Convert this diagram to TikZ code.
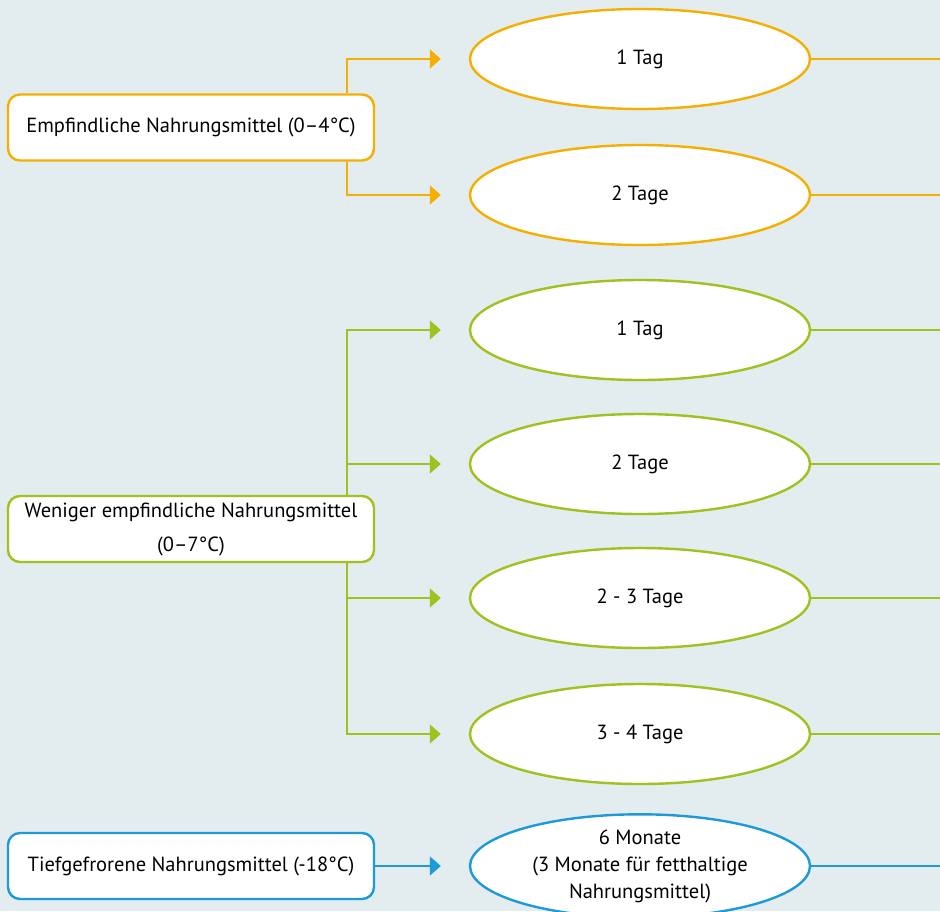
\documentclass[tikz,border=0pt]{standalone}
\usepackage{fontspec}
\setmainfont{PT Sans}
\usetikzlibrary{shapes.geometric,arrows.meta}
\definecolor{bg}{HTML}{E3ECEF}
\definecolor{cor}{HTML}{F5AF00}
\definecolor{cgr}{HTML}{A0C11E}
\definecolor{cbl}{HTML}{1E9AD8}
\tikzset{
  box/.style={draw=#1, fill=white, line width=2.4pt, rounded corners=12pt,
    minimum width=366pt, minimum height=66pt, align=center, inner sep=2pt,
    font=\fontsize{20.5}{34}\selectfont},
  oval/.style={draw=#1, fill=white, line width=2.4pt, ellipse,
    minimum width=340pt, minimum height=100pt, inner sep=0pt, align=center,
    font=\fontsize{20.5}{27}\selectfont},
  link/.style={draw=#1, line width=2pt, -{Triangle[length=11pt,width=19pt]}, shorten >=28pt},
  tail/.style={draw=#1, line width=2pt}
}
\begin{document}
\begin{tikzpicture}[x=1pt,y=-1pt]
\fill[bg] (0,0) rectangle (940,911);
\useasboundingbox (0,0) rectangle (940,911);
\coordinate (jx) at (347,0);
\coordinate (rx) at (940,0);
% orange
\node[box=cor] (b1) at (191,127.5) {Empfindliche Nahrungsmittel (0–4°C)};
\node[oval=cor] (e1) at (640,59) {1 Tag};
\node[oval=cor] (e2) at (640,195) {2 Tage};
\draw[link=cor] (b1.north -| jx) |- (e1.west);
\draw[link=cor] (b1.south -| jx) |- (e2.west);
\draw[tail=cor] (e1.east) -- (e1.east -| rx);
\draw[tail=cor] (e2.east) -- (e2.east -| rx);
% green
\node[box=cgr] (b2) at (191,529) {Weniger empfindliche Nahrungsmittel\\(0–7°C)};
\node[oval=cgr] (e3) at (640,330) {1 Tag};
\node[oval=cgr] (e4) at (640,464) {2 Tage};
\node[oval=cgr] (e5) at (640,598) {2 - 3 Tage};
\node[oval=cgr] (e6) at (640,734) {3 - 4 Tage};
\draw[link=cgr] (b2.north -| jx) |- (e3.west);
\draw[link=cgr] (b2.north -| jx) |- (e4.west);
\draw[link=cgr] (b2.south -| jx) |- (e5.west);
\draw[link=cgr] (b2.south -| jx) |- (e6.west);
\draw[tail=cgr] (e3.east) -- (e3.east -| rx);
\draw[tail=cgr] (e4.east) -- (e4.east -| rx);
\draw[tail=cgr] (e5.east) -- (e5.east -| rx);
\draw[tail=cgr] (e6.east) -- (e6.east -| rx);
% blue
\node[box=cbl] (b3) at (191,866) {Tiefgefrorene Nahrungsmittel (-18°C)};
\node[oval=cbl] (e7) at (640,866) {6 Monate\\(3 Monate für fetthaltige\\Nahrungsmittel)};
\draw[link=cbl] (b3.east) -- (e7.west);
\draw[tail=cbl] (e7.east) -- (e7.east -| rx);
\end{tikzpicture}
\end{document}
